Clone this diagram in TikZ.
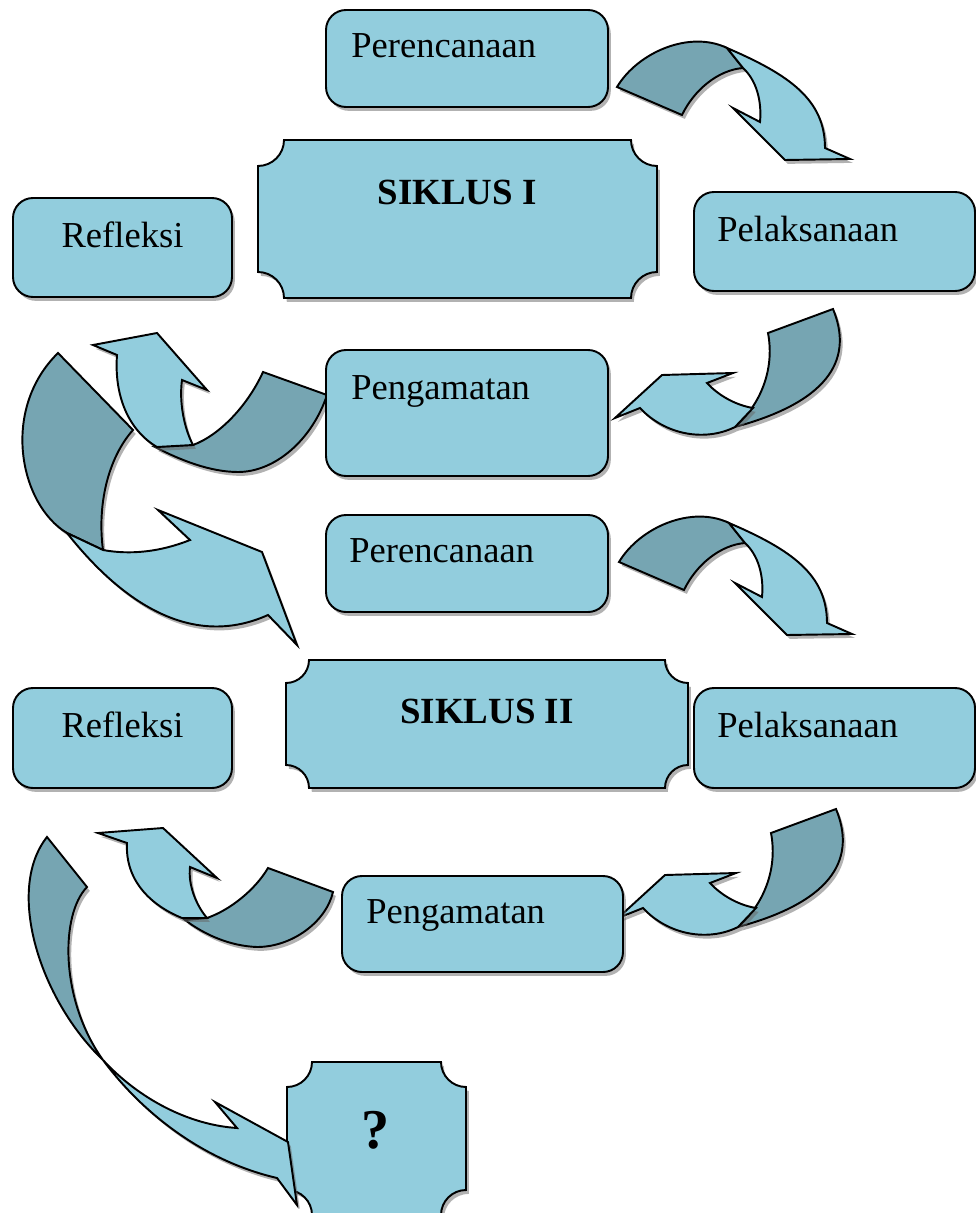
\documentclass[tikz,border=0pt]{standalone}
\usepackage{fontspec}
\setmainfont{Liberation Serif}
\usetikzlibrary{shadows,fit}

\definecolor{ribbon}{RGB}{146,205,221}
\definecolor{ribbonback}{RGB}{118,165,178}

\tikzset{
  shadowed/.style={drop shadow={shadow xshift=1.6pt,shadow yshift=-2.2pt,fill=black!60,opacity=.5}},
  box/.style={draw,line width=1.1pt,fill=ribbon,rounded corners=0.4cm,inner sep=0pt,shadowed},
  plaquestyle/.style={draw,line width=1.1pt,fill=ribbon,shadowed},
  front/.style={draw,line width=1.1pt,fill=ribbon,shadowed},
  back/.style={front,fill=ribbonback},
  txt/.style={inner sep=0pt,font=\fontsize{20.8}{25}\selectfont},
  title/.style={inner sep=0pt,font=\fontsize{21}{25}\selectfont\bfseries},
  % Perencanaan -> Pelaksanaan
  pics/curveplan/.style={code={
    \draw[back] (617,87) .. controls (638,52) and (690,30) .. (727,48) -- (743,68)
      .. controls (718,70) and (694,90) .. (682,115) -- cycle;
    \draw[front] (727,48) .. controls (790,75) and (825,100) .. (825,148) -- (850,159)
      -- (785,160) -- (733,108) -- (760,122) .. controls (762,100) and (756,80) .. (743,68) -- cycle;
  }},
  % Pelaksanaan -> Pengamatan
  pics/curveact/.style={code={
    \draw[back] (768,333) -- (833,309) .. controls (852,355) and (835,400) .. (735,427)
      .. controls (760,405) and (775,370) .. (768,333) -- cycle;
    \draw[front] (733,373) -- (662,375) -- (615,418) -- (640,408)
      .. controls (665,435) and (705,442) .. (735,427) -- (753,408)
      .. controls (735,405) and (718,395) .. (707,383) -- cycle;
  }}
}

% plaque: x1,y1,x2,y2,r
\newcommand{\plaque}[5]{%
  \draw[plaquestyle] (#1,#2+#5) .. controls (#1+0.55*#5,#2+#5) and (#1+#5,#2+0.55*#5) .. (#1+#5,#2)
    -- (#3-#5,#2) .. controls (#3-#5,#2+0.55*#5) and (#3-0.55*#5,#2+#5) .. (#3,#2+#5)
    -- (#3,#4-#5) .. controls (#3-0.55*#5,#4-#5) and (#3-#5,#4-0.55*#5) .. (#3-#5,#4)
    -- (#1+#5,#4) .. controls (#1+#5,#4-0.55*#5) and (#1+0.55*#5,#4-#5) .. (#1,#4-#5) -- cycle;}

\begin{document}
\begin{tikzpicture}[x=0.02cm,y=-0.02cm]
\useasboundingbox (0,0) rectangle (976,1213);

% curved arrows, cycle I and II
\pic at (0,0) {curveplan};
\pic at (2,475) {curveplan};
\pic at (0,0) {curveact};
\pic at (3,500) {curveact};

% Refleksi I -> cycle II
\draw[back] (58,353) -- (133,430) .. controls (108,458) and (97,505) .. (103,550) -- (67,533)
  .. controls (20,505) and (0,410) .. (58,353) -- cycle;
\draw[front] (67,533) .. controls (120,600) and (190,650) .. (268,615) -- (297,645) -- (262,552)
  -- (158,510) -- (190,540) .. controls (160,552) and (130,555) .. (103,550) -- cycle;

% Pengamatan -> Refleksi
\draw[back] (263,372) -- (327,395) .. controls (312,440) and (275,472) .. (238,472)
  .. controls (210,472) and (180,460) .. (155,447) -- (193,445)
  .. controls (220,435) and (248,405) .. (263,372) -- cycle;
\draw[front] (117,355) -- (93,345) -- (157,333) -- (207,390) -- (182,380)
  .. controls (179,402) and (184,428) .. (193,445) -- (157,447)
  .. controls (128,430) and (114,395) .. (117,355) -- cycle;
\draw[back] (268,868) -- (333,892) .. controls (326,922) and (292,947) .. (257,947)
  .. controls (230,946) and (205,935) .. (185,920) -- (207,918)
  .. controls (230,910) and (255,890) .. (268,868) -- cycle;
\draw[front] (127,843) -- (98,833) -- (163,828) -- (217,878) -- (190,867)
  .. controls (188,885) and (196,905) .. (207,918) -- (182,918)
  .. controls (150,905) and (125,880) .. (127,843) -- cycle;

% cycle I
\node[box, fit={(326,10) (608,107)}] (per1) {};
\node[txt, anchor=base west] (per1t) at ([shift={(26,48)}]per1.north west) {Perencanaan};
\plaque{258}{140}{657}{298}{26}
\node[title] (sik1) at (457,192) {SIKLUS I};
\node[box, fit={(13,198) (232,297)}] (ref1) {};
\node[txt, anchor=base] (ref1t) at ([yshift=-50*0.02cm]ref1.north) {Refleksi};
\node[box, fit={(694,192) (975,291)}] (pel1) {};
\node[txt, anchor=base west] (pel1t) at ([shift={(24,50)}]pel1.north west) {Pelaksanaan};
\node[box, fit={(326,350) (608,476)}] (pen1) {};
\node[txt, anchor=base west] (pen1t) at ([shift={(26,50)}]pen1.north west) {Pengamatan};

% cycle II
\node[box, fit={(326,515) (608,612)}] (per2) {};
\node[txt, anchor=base west] (per2t) at ([shift={(24,48)}]per2.north west) {Perencanaan};
\plaque{286}{660}{688}{788}{23}
\node[title] (sik2) at (487,711) {SIKLUS II};
\node[box, fit={(13,688) (232,788)}] (ref2) {};
\node[txt, anchor=base] (ref2t) at ([yshift=-50*0.02cm]ref2.north) {Refleksi};
\node[box, fit={(694,688) (975,788)}] (pel2) {};
\node[txt, anchor=base west] (pel2t) at ([shift={(24,50)}]pel2.north west) {Pelaksanaan};
\node[box, fit={(342,876) (623,972)}] (pen2) {};
\node[txt, anchor=base west] (pen2t) at ([shift={(25,48)}]pen2.north west) {Pengamatan};

% next cycle
\plaque{287}{1062}{466}{1215}{25}
\node[title, font=\fontsize{32}{36}\selectfont\bfseries] (next) at (376,1130) {?};

% Refleksi II -> ?
\draw[back] (47,837) -- (87,887) .. controls (60,915) and (60,1000) .. (103,1060)
  .. controls (40,1000) and (5,890) .. (47,837) -- cycle;
\draw[front] (103,1060) .. controls (140,1110) and (200,1160) .. (277,1178) -- (297,1205)
  -- (288,1142) -- (215,1102) -- (237,1128) .. controls (190,1125) and (140,1100) .. (103,1060) -- cycle;
\end{tikzpicture}
\end{document}
